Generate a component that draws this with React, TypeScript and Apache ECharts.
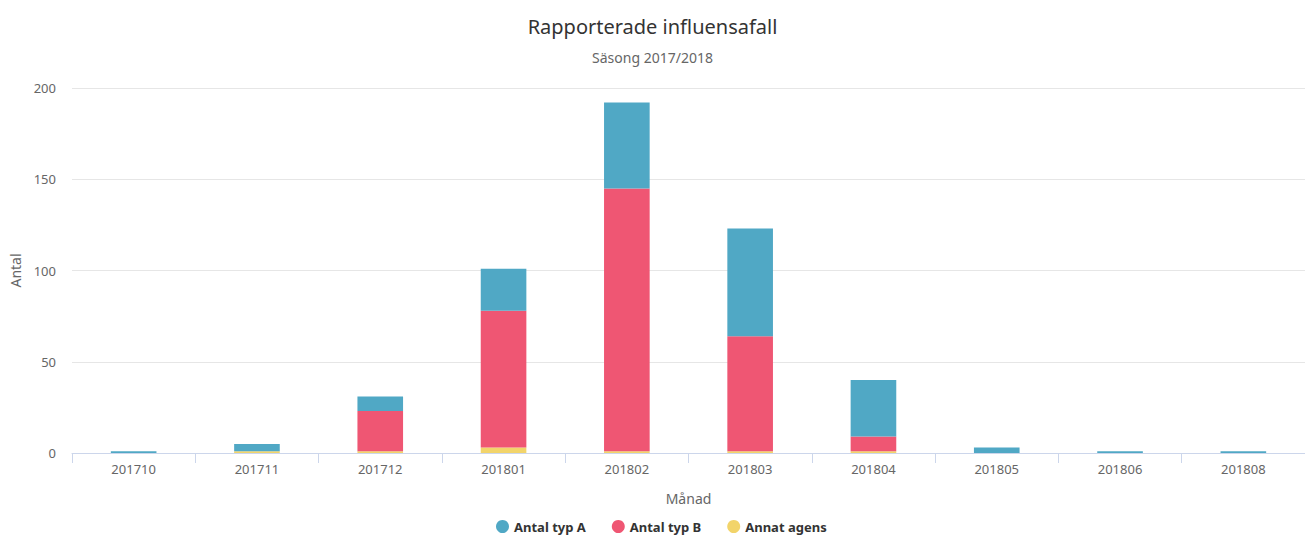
import React, { useEffect, useRef } from "react";
import * as echarts from "echarts";

const months = ["201710", "201711", "201712", "201801", "201802", "201803", "201804", "201805", "201806", "201808"];
const typA = [1, 4, 8, 23, 47, 59, 31, 3, 1, 1];
const typB = [0, 0, 22, 75, 144, 63, 8, 0, 0, 0];
const annat = [0, 1, 1, 3, 1, 1, 1, 0, 0, 0];
const yTicks = [0, 50, 100, 150, 200];

const FONT = "'Noto Sans', sans-serif";

export default function App() {
  const ref = useRef<HTMLDivElement>(null);
  useEffect(() => {
    const chart = echarts.init(ref.current!, null, { renderer: "svg" });
    chart.setOption({
      animation: false,
      textStyle: { fontFamily: FONT },
      title: {
        text: "Rapporterade influensafall",
        subtext: "Säsong 2017/2018",
        left: "center",
        top: 11,
        itemGap: 14,
        textStyle: { fontFamily: FONT, fontSize: 20, fontWeight: "normal", color: "#333333" },
        subtextStyle: { fontFamily: FONT, fontSize: 14, color: "#666666" },
      },
      legend: {
        data: ["Antal typ A", "Antal typ B", "Annat agens"],
        icon: "circle",
        itemWidth: 13,
        itemHeight: 13,
        itemGap: 26,
        left: 491,
        top: 515,
        textStyle: { fontFamily: FONT, fontSize: 13, fontWeight: "bold", color: "#333333" },
      },
      grid: { left: 69, right: -8, top: 88, bottom: 83, containLabel: false },
      xAxis: {
        type: "category",
        data: months,
        name: "Månad",
        nameLocation: "middle",
        nameGap: 38,
        nameTextStyle: { fontFamily: FONT, fontSize: 14, color: "#666666" },
        axisLine: { lineStyle: { color: "#ccd6eb" } },
        axisTick: { show: true, length: 10, lineStyle: { color: "#ccd6eb" } },
        axisLabel: { fontFamily: FONT, fontSize: 13, color: "#666666", margin: 9 },
      },
      yAxis: {
        type: "value",
        min: yTicks[0],
        max: yTicks[yTicks.length - 1],
        interval: 50,
        name: "Antal",
        nameLocation: "middle",
        nameGap: 50,
        nameTextStyle: { fontFamily: FONT, fontSize: 14, color: "#666666" },
        axisLine: { show: false },
        axisTick: { show: false },
        axisLabel: { fontFamily: FONT, fontSize: 13, color: "#666666", margin: 16 },
        splitLine: { lineStyle: { color: "#e6e6e6" } },
      },
      series: [
        { name: "Annat agens", type: "bar", stack: "t", data: annat, barWidth: "37%", itemStyle: { color: "#f2d46a" } },
        { name: "Antal typ B", type: "bar", stack: "t", data: typB, barWidth: "37%", itemStyle: { color: "#ef5673" } },
        { name: "Antal typ A", type: "bar", stack: "t", data: typA, barWidth: "37%", itemStyle: { color: "#50a8c5" } },
      ],
    });
    return () => chart.dispose();
  }, []);
  return (
    <div
      ref={ref}
      style={{ position: "absolute", left: 0, top: 0, width: 1305, height: 536, background: "#ffffff" }}
    />
  );
}
